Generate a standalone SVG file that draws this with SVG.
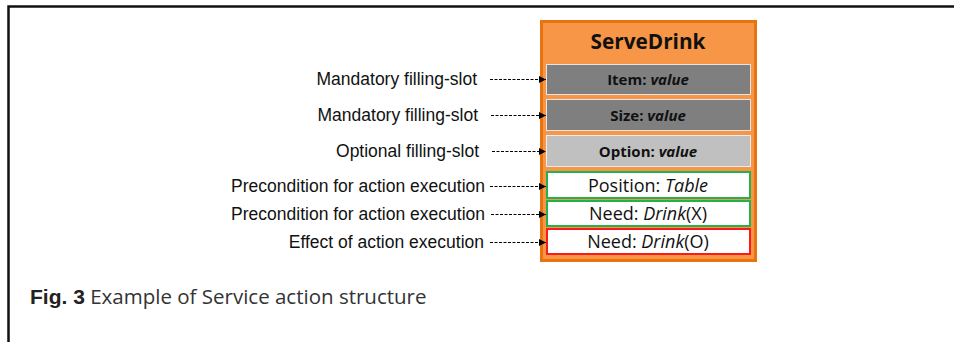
<svg xmlns="http://www.w3.org/2000/svg" width="954" height="342" viewBox="0 0 954 342">
  <defs>
    <marker id="arrow" viewBox="0 0 8 8" refX="8" refY="4" markerWidth="7" markerHeight="7" markerUnits="userSpaceOnUse" orient="auto">
      <path d="M0,0 L8,4 L0,8 Z" fill="#000"/>
    </marker>
  </defs>
  <style>
    .label { font-family: "Liberation Sans", Arial, sans-serif; font-size: 17.5px; fill: #111; text-anchor: end; }
    .conn { stroke: #000; stroke-width: 1; stroke-dasharray: 3 1.5; fill: none; marker-end: url(#arrow); }
    .slot { font-family: "Open Sans", "Noto Sans", sans-serif; font-size: 15px; font-weight: bold; fill: #111; text-anchor: middle; }
    .cond { font-family: "Open Sans", "Noto Sans", sans-serif; font-size: 18px; fill: #111; text-anchor: middle; }
    .dark { fill: #7F7F7F; stroke: #E4E4E4; stroke-width: 1; }
    .light { fill: #C0C0C0; stroke: #EDEDED; stroke-width: 1; }
    .pre { fill: #fff; stroke: #22B14C; stroke-width: 2; }
    .eff { fill: #fff; stroke: #FF1A1A; stroke-width: 2; }
  </style>

  <rect width="954" height="342" fill="#fff"/>
  <!-- page frame -->
  <path d="M8.5,342 V6.5 H954" fill="none" stroke="#111" stroke-width="2.5"/>

  <!-- action frame -->
  <g id="serve-drink">
    <rect x="541.5" y="21.5" width="214" height="239" fill="#F79646" stroke="#E8740F" stroke-width="3"/>
    <text x="648" y="49" font-family="'Open Sans', 'Noto Sans', sans-serif" font-size="21" font-weight="bold" fill="#111" text-anchor="middle" textLength="115" lengthAdjust="spacingAndGlyphs">ServeDrink</text>
  </g>

  <g id="slot-item">
    <rect class="dark" x="546.5" y="64.5" width="204" height="30"/>
    <text class="slot" x="648" y="85">Item: <tspan font-style="italic">value</tspan></text>
  </g>
  <g id="slot-size">
    <rect class="dark" x="546.5" y="99.5" width="204" height="31"/>
    <text class="slot" x="648" y="121">Size: <tspan font-style="italic">value</tspan></text>
  </g>
  <g id="slot-option">
    <rect class="light" x="546.5" y="135.5" width="204" height="31"/>
    <text class="slot" x="648" y="157">Option: <tspan font-style="italic">value</tspan></text>
  </g>
  <g id="pre-position">
    <rect class="pre" x="547" y="172" width="203" height="26"/>
    <text class="cond" x="648" y="192">Position: <tspan font-style="italic">Table</tspan></text>
  </g>
  <g id="pre-need">
    <rect class="pre" x="547" y="201" width="203" height="25"/>
    <text class="cond" x="648" y="220">Need: <tspan font-style="italic">Drink</tspan>(X)</text>
  </g>
  <g id="effect-need">
    <rect class="eff" x="547" y="229" width="203" height="25"/>
    <text class="cond" x="648" y="248">Need: <tspan font-style="italic">Drink</tspan>(O)</text>
  </g>

  <!-- row labels -->
  <g id="label-mandatory-1"><text class="label" x="477" y="85">Mandatory filling-slot</text></g>
  <g id="label-mandatory-2"><text class="label" x="478" y="121">Mandatory filling-slot</text></g>
  <g id="label-optional"><text class="label" x="479" y="157">Optional filling-slot</text></g>
  <g id="label-pre-1"><text class="label" x="485" y="192">Precondition for action execution</text></g>
  <g id="label-pre-2"><text class="label" x="485" y="220">Precondition for action execution</text></g>
  <g id="label-effect"><text class="label" x="484" y="248">Effect of action execution</text></g>

  <g id="connectors">
    <line class="conn" x1="490" y1="79.5" x2="546" y2="79.5"/>
    <line class="conn" x1="491" y1="115.5" x2="546" y2="115.5"/>
    <line class="conn" x1="492" y1="151.5" x2="546" y2="151.5"/>
    <line class="conn" x1="490" y1="186.5" x2="546" y2="186.5"/>
    <line class="conn" x1="491" y1="214.5" x2="546" y2="214.5"/>
    <line class="conn" x1="490" y1="242.5" x2="546" y2="242.5"/>
  </g>

  <!-- caption -->
  <text x="30" y="304" fill="#222"><tspan font-family="'Liberation Sans', Arial, sans-serif" font-size="21" font-weight="bold">Fig. 3</tspan><tspan font-family="'Open Sans', 'Noto Sans', sans-serif" font-size="20.5" fill="#333"> Example of Service action structure</tspan></text>
</svg>
